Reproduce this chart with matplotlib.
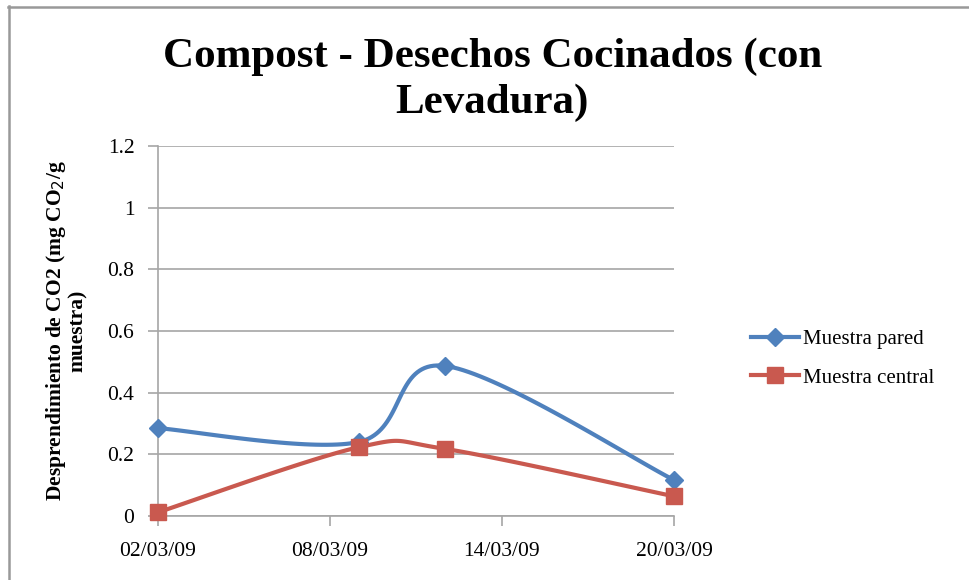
import numpy as np
import pandas as pd
import matplotlib
matplotlib.use("Agg")
import matplotlib.pyplot as plt
import matplotlib.dates as mdates
from matplotlib.lines import Line2D

plt.rcParams["font.family"] = ["Liberation Serif", "DejaVu Serif"]

fechas = ["02/03/09", "09/03/09", "12/03/09", "20/03/09"]
muestra_pared = [0.285, 0.24, 0.487, 0.117]
muestra_central = [0.012, 0.223, 0.218, 0.064]
ticks_x = ["02/03/09", "08/03/09", "14/03/09", "20/03/09"]
ticks_y = [0, 0.2, 0.4, 0.6, 0.8, 1, 1.2]

AZUL = "#4F81BD"
ROJO = "#C9594F"
GRIS = "#A6A6A6"


def a_num(lista):
    return mdates.date2num(pd.to_datetime(lista, format="%d/%m/%y"))


def suavizar(x, y, sx, sy, n=40):
    # Catmull-Rom en coordenadas de pantalla, como el "suavizado" de Excel
    p = np.column_stack([np.asarray(x) * sx, np.asarray(y) * sy])
    p = np.vstack([p[0], p, p[-1]])
    out = []
    for i in range(1, len(p) - 2):
        p0, p1, p2, p3 = p[i - 1], p[i], p[i + 1], p[i + 2]
        t = np.linspace(0, 1, n)[:, None]
        c = 0.5 * ((2 * p1) + (-p0 + p2) * t
                   + (2 * p0 - 5 * p1 + 4 * p2 - p3) * t ** 2
                   + (-p0 + 3 * p1 - 3 * p2 + p3) * t ** 3)
        out.append(c)
    out = np.vstack(out)
    return out[:, 0] / sx, out[:, 1] / sy


fig = plt.figure(figsize=(9.69, 5.8), dpi=100)
ax = fig.add_axes([0.163, 0.1103, 0.5325, 0.638])

xd = a_num(fechas)
xt = a_num(ticks_x)
ax.set_xlim(xt[0], xt[-1])
ax.set_ylim(0, 1.2)

# escala aproximada en pixeles para el suavizado
sx = 516 / (xt[-1] - xt[0])
sy = 370 / 1.2

for vals, color, marker, ms, label in [
    (muestra_pared, AZUL, "D", 9, "Muestra pared"),
    (muestra_central, ROJO, "s", 11, "Muestra central"),
]:
    cx, cy = suavizar(xd, vals, sx, sy)
    ax.plot(cx, cy, color=color, lw=3, solid_capstyle="round", zorder=3, clip_on=False)
    ax.plot(xd, vals, linestyle="none", marker=marker, ms=ms, color=color,
            zorder=4, clip_on=False)
    ax.plot([], [], color=color, lw=3, marker=marker, ms=ms, label=label)

ax.set_xticks(xt)
ax.set_xticklabels(ticks_x)
ax.set_yticks(ticks_y)
ax.set_yticklabels(["0", "0.2", "0.4", "0.6", "0.8", "1", "1.2"])
ax.tick_params(axis="both", labelsize=15.5, color=GRIS, length=7, width=1.2)
ax.tick_params(axis="x", pad=12)
ax.tick_params(axis="y", pad=10)
ax.grid(axis="y", color=GRIS, lw=1.2)
ax.set_axisbelow(True)
for s in ["top", "right"]:
    ax.spines[s].set_visible(False)
for s in ["left", "bottom"]:
    ax.spines[s].set_color(GRIS)
    ax.spines[s].set_linewidth(1.2)

ax.set_ylabel("Desprendimiento de CO2 (mg CO$_2$/g\nmuestra)", fontsize=15.5,
              fontweight="bold", labelpad=14, linespacing=1.0)

fig.text(0.508, 0.79, "Compost - Desechos Cocinados (con\nLevadura)",
         ha="center", va="bottom", fontsize=31, fontweight="bold", linespacing=1.25)

leg = ax.legend(loc="center left", bbox_to_anchor=(1.113, 0.425), frameon=False,
                fontsize=15, handlelength=2.3, labelspacing=0.9, handletextpad=0.2)

# borde del grafico
fig.add_artist(Line2D([8 / 969, 1], [1 - 6.5 / 580] * 2, color="#999999", lw=1.8))
fig.add_artist(Line2D([9 / 969] * 2, [0, 1 - 6 / 580], color="#999999", lw=1.8))

fig.savefig("out.png", dpi=100)
